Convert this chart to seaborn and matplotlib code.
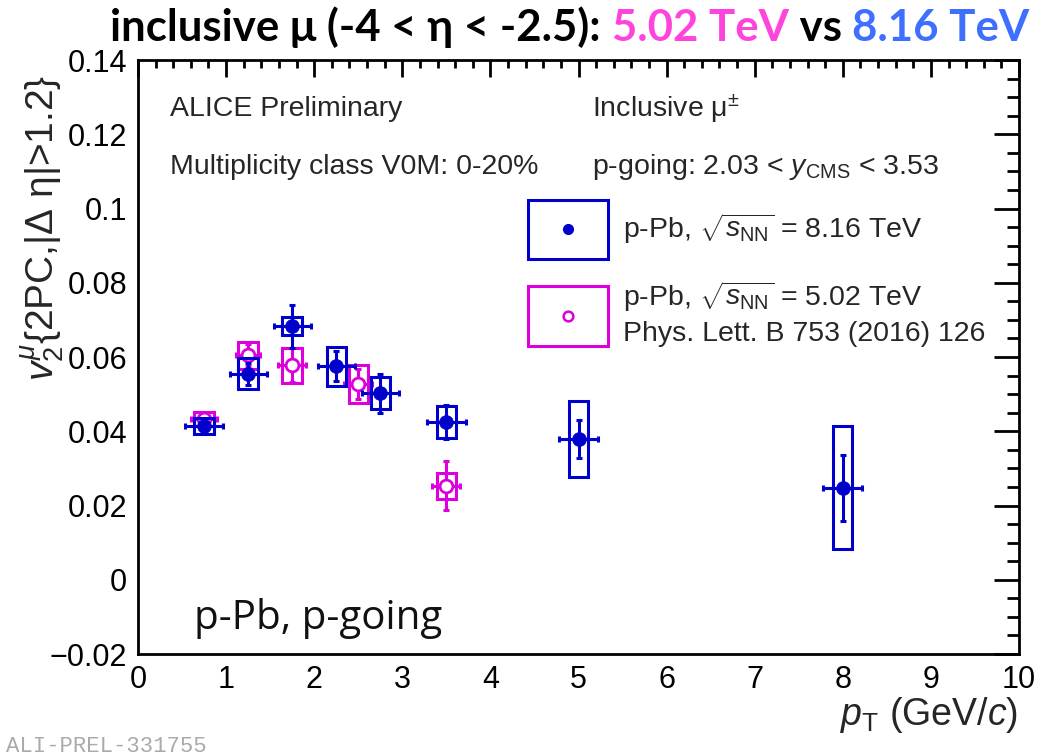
import numpy as np
import pandas as pd
import matplotlib
matplotlib.use("Agg")
import matplotlib.pyplot as plt
import seaborn as sns
from matplotlib.patches import Rectangle
from matplotlib.offsetbox import TextArea, HPacker, AnchoredOffsetbox
from matplotlib.ticker import MultipleLocator, FixedLocator

# ---------------- data ----------------
pt_816 = [0.75, 1.25, 1.75, 2.25, 2.75, 3.5, 5.0, 8.0]
v2_816 = [0.0415, 0.0555, 0.0683, 0.0575, 0.0502, 0.0425, 0.0380, 0.0248]
stat_816 = [0.0015, 0.0030, 0.0058, 0.0040, 0.0052, 0.0046, 0.0051, 0.0089]
sys_816 = [0.0022, 0.0042, 0.0025, 0.0052, 0.0043, 0.0042, 0.0102, 0.0165]
xerr_816 = [0.22, 0.21, 0.21, 0.21, 0.21, 0.22, 0.22, 0.22]

pt_502 = [0.75, 1.25, 1.75, 2.5, 3.5]
v2_502 = [0.0433, 0.0605, 0.0578, 0.0527, 0.0253]
stat_502 = [0.0012, 0.0030, 0.0045, 0.0040, 0.0066]
sys_502 = [0.0020, 0.0036, 0.0047, 0.0052, 0.0035]
xerr_502 = [0.15, 0.14, 0.16, 0.16, 0.16]

box_hw = 0.11  # half width of systematic boxes (GeV/c)

c_816 = "#0000CC"
c_502 = "#DD00DD"

df816 = pd.DataFrame({"pt": pt_816, "v2": v2_816, "set": "8.16"})
df502 = pd.DataFrame({"pt": pt_502, "v2": v2_502, "set": "5.02"})

# ---------------- figure ----------------
sns.set_style("white")
plt.rcParams["font.family"] = ["Liberation Sans", "DejaVu Sans"]
plt.rcParams["mathtext.fontset"] = "custom"
plt.rcParams["mathtext.rm"] = "Liberation Sans"
plt.rcParams["mathtext.it"] = "Liberation Sans:italic"
plt.rcParams["mathtext.bf"] = "Liberation Sans:bold"

fig = plt.figure(figsize=(10.41, 7.55), dpi=100)
ax = fig.add_axes([138 / 1041, 1 - 654 / 755, (1019 - 138) / 1041, (654 - 60) / 755])

def draw_set(pt, v2, stat, sysu, xerr, color, z):
    for x, y, s in zip(pt, v2, sysu):
        ax.add_patch(Rectangle((x - box_hw, y - s), 2 * box_hw, 2 * s,
                               fill=False, edgecolor=color, lw=2.2, zorder=z))
    ax.errorbar(pt, v2, yerr=stat, xerr=xerr, fmt="none", ecolor=color,
                elinewidth=2.2, capsize=2.5, capthick=2.2, zorder=z + 0.5)

draw_set(pt_502, v2_502, stat_502, sys_502, xerr_502, c_502, 2)
draw_set(pt_816, v2_816, stat_816, sys_816, xerr_816, c_816, 4)

sns.scatterplot(data=df502, x="pt", y="v2", ax=ax, marker="o", s=85,
                facecolor="white", edgecolor=c_502, linewidth=2.0, zorder=3, legend=False)
sns.scatterplot(data=df816, x="pt", y="v2", ax=ax, marker="o", s=100,
                color=c_816, edgecolor=c_816, linewidth=0.5, zorder=5, legend=False)

ax.set_xlim(0, 10)
ax.set_ylim(-0.02, 0.14)
ax.set_xlabel("")
ax.set_ylabel("")

yt = [-0.02, 0, 0.02, 0.04, 0.06, 0.08, 0.1, 0.12, 0.14]
ytl = ["\u22120.02", "0", "0.02", "0.04", "0.06", "0.08", "0.1", "0.12", "0.14"]
ax.yaxis.set_major_locator(FixedLocator(yt))
ax.set_yticklabels(ytl)
ax.yaxis.set_minor_locator(MultipleLocator(0.005))
ax.xaxis.set_major_locator(MultipleLocator(1))
ax.xaxis.set_minor_locator(MultipleLocator(0.2))
ax.tick_params(axis="both", which="both", direction="in", top=True, right=True,
               labelsize=22, colors="black", width=2)
ax.tick_params(axis="y", which="major", length=18, pad=8)
ax.tick_params(axis="y", which="minor", length=9)
ax.tick_params(axis="x", which="major", length=12, pad=8)
ax.tick_params(axis="x", which="minor", length=6)
for sp in ax.spines.values():
    sp.set_color("black")
    sp.set_linewidth(2)

# axis labels
fig.text(1018 / 1041, 1 - 715 / 755, r"$\it{p}_{\rm T}$ (GeV/$\it{c}$)", ha="right",
         va="center", fontsize=27)
fig.text(42 / 1041, 1 - 228 / 755, r"$\it{v}_{2}^{\mu}$" + "{2PC,|\u0394 \u03b7|>1.2}",
         rotation=90, ha="center", va="center", fontsize=28)

# in-plot texts
tf = ax.transData
fs = 20.5
ax.text(0.36, 0.1269, "ALICE Preliminary", transform=tf, fontsize=fs, va="center")
ax.text(0.36, 0.1113, "Multiplicity class V0M: 0-20%", transform=tf, fontsize=fs, va="center")
ax.text(5.15, 0.1269, "Inclusive \u03bc$^{\\pm}$", transform=tf, fontsize=fs, va="center")
ax.text(5.15, 0.1113, r"p-going: 2.03 < $\it{y}_{\rm CMS}$ < 3.53", transform=tf,
        fontsize=fs, va="center")

# legend (manual, ROOT style)
ax.add_patch(Rectangle((4.43, 0.0863), 0.91, 0.0161, fill=False, edgecolor=c_816, lw=2.2,
                       transform=tf, clip_on=False))
ax.add_patch(Rectangle((4.43, 0.0629), 0.91, 0.0161, fill=False, edgecolor=c_502, lw=2.2,
                       transform=tf, clip_on=False))
ax.plot([4.885], [0.0944], "o", color=c_816, ms=7, transform=tf)
ax.plot([4.885], [0.0710], "o", mfc="white", mec=c_502, mew=1.8, ms=7, transform=tf)
ax.text(5.51, 0.0944, r"p-Pb, $\sqrt{\it{s}_{\rm NN}}$ = 8.16 TeV", transform=tf,
        fontsize=fs, va="center")
ax.text(5.51, 0.0763, r"p-Pb, $\sqrt{\it{s}_{\rm NN}}$ = 5.02 TeV", transform=tf,
        fontsize=fs, va="center")
ax.text(5.51, 0.0661, "Phys. Lett. B 753 (2016) 126", transform=tf, fontsize=fs, va="center")

ax.text(0.63, -0.0105, "p-Pb, p-going", transform=tf, fontsize=29, va="center",
        family="Open Sans", color="#111111")

fig.text(6 / 1041, 1 - 746 / 755, "ALI-PREL-331755", fontsize=16, color="#aaaaaa",
         family="Liberation Mono", va="center")

# title with coloured parts
parts = [("inclusive \u03bc (-4 < \u03b7 < -2.5): ", "black"), ("5.02 TeV", "#FF44DD"),
         (" vs ", "black"), ("8.16 TeV", "#3F6FFF")]
areas = [TextArea(t, textprops=dict(color=c, fontsize=31.5, fontweight="bold", family="Lato"))
         for t, c in parts]
box = HPacker(children=areas, align="baseline", pad=0, sep=0)
ab = AnchoredOffsetbox(loc="center", child=box, frameon=False,
                       bbox_to_anchor=(570 / 1041, 1 - 27 / 755),
                       bbox_transform=fig.transFigure, borderpad=0, pad=0)
fig.add_artist(ab)

fig.savefig("out.png", dpi=100)
